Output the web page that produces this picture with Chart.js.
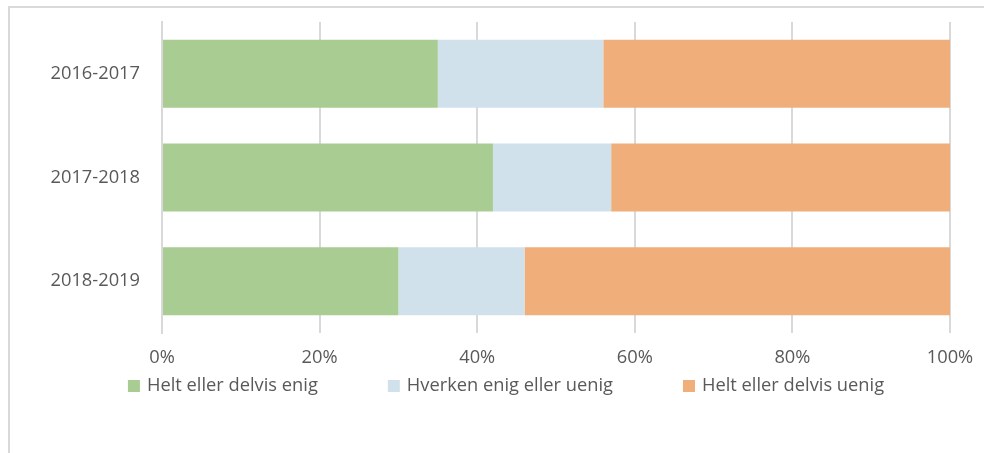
<!DOCTYPE html>
<html>
<head>
<meta charset="utf-8">
<script src="https://cdn.jsdelivr.net/npm/chart.js@4.4.1/dist/chart.umd.min.js"></script>
<style>
  html, body { margin: 0; padding: 0; background: #fff; overflow: hidden; }
  .ramme {
    position: absolute; left: 8px; top: 6px; width: 1000px; height: 500px;
    border-top: 2px solid #d9d9d9; border-left: 2px solid #d9d9d9;
  }
  #wrap { position: absolute; left: 0; top: 0; width: 984px; height: 453px; }
</style>
</head>
<body>
<div class="ramme"></div>
<div id="wrap"><canvas id="myChart"></canvas></div>
<script>
const skoleaar = ["2016-2017", "2017-2018", "2018-2019"];
const enig = [35, 42, 30];
const hverken = [21, 15, 16];
const uenig = [44, 43, 54];
const prosentTicks = ["0%", "20%", "40%", "60%", "80%", "100%"];

const tekstFarge = "#595959";
const fontFamilie = "'Open Sans', 'Noto Sans', sans-serif";
const font = { family: fontFamilie, size: 18.3 };

// legenden tegnes selv for å få bred avstand mellom elementene
const bunnLegende = {
    id: "bunnLegende",
    afterDraw(chart) {
        const c = chart.ctx;
        const boks = 12, tekstGap = 7, mellomrom = 70;
        const midtX = 506, midtY = 386;
        c.save();
        c.font = font.size + "px " + fontFamilie;
        const items = chart.data.datasets.map((ds) => ({
            tekst: ds.label,
            farge: ds.backgroundColor,
            bredde: boks + tekstGap + c.measureText(ds.label).width,
        }));
        const total = items.reduce((s, it) => s + it.bredde, 0) + mellomrom * (items.length - 1);
        let x = midtX - total / 2;
        c.textBaseline = "middle";
        c.textAlign = "left";
        items.forEach((it) => {
            c.fillStyle = it.farge;
            c.fillRect(x, midtY - boks / 2, boks, boks);
            c.fillStyle = tekstFarge;
            c.fillText(it.tekst, x + boks + tekstGap, midtY);
            x += it.bredde + mellomrom;
        });
        c.restore();
    },
};

const ctx = document.getElementById("myChart");

new Chart(ctx, {
    type: "bar",
    data: {
        labels: skoleaar,
        datasets: [
            { label: "Helt eller delvis enig", data: enig, backgroundColor: "#A9CC93" },
            { label: "Hverken enig eller uenig", data: hverken, backgroundColor: "#D0E1EB" },
            { label: "Helt eller delvis uenig", data: uenig, backgroundColor: "#F0AE7B" },
        ],
    },
    options: {
        indexAxis: "y",
        responsive: true,
        maintainAspectRatio: false,
        animation: false,
        layout: { padding: { top: 22, right: 34, left: 0, bottom: 84 } },
        datasets: {
            bar: { categoryPercentage: 1, barPercentage: 0.656, borderWidth: 0 },
        },
        scales: {
            x: {
                stacked: true,
                min: 0,
                max: 100,
                afterFit: (s) => {
                    s.height = 36;
                    s.paddingLeft = 0;
                    s.paddingRight = 0;
                },
                afterBuildTicks: (s) => {
                    s.ticks = prosentTicks.map((t, i) => ({ value: i * 20 }));
                },
                ticks: {
                    color: tekstFarge,
                    font: font,
                    padding: 14,
                    callback: (v, i) => prosentTicks[i],
                },
                grid: { color: "#d9d9d9", lineWidth: 2, drawTicks: false },
                border: { display: false },
            },
            y: {
                stacked: true,
                afterFit: (s) => {
                    s.width = 162;
                    s.paddingTop = 0;
                    s.paddingBottom = 0;
                },
                ticks: { color: tekstFarge, font: font, padding: 22 },
                grid: { display: false, drawTicks: false },
                border: { display: true, color: "#d9d9d9", width: 2 },
            },
        },
        plugins: {
            legend: { display: false },
            tooltip: { enabled: false },
        },
    },
    plugins: [bunnLegende],
});
</script>
</body>
</html>
